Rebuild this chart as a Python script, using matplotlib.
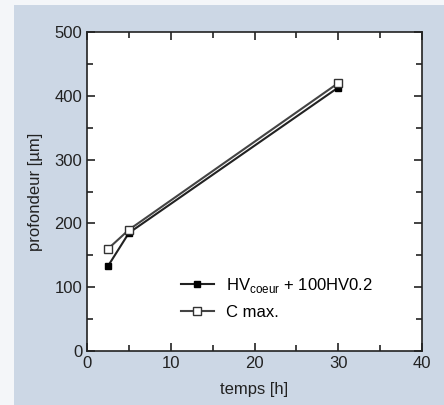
import matplotlib
matplotlib.use('Agg')
import matplotlib.pyplot as plt
from matplotlib.patches import Rectangle
from matplotlib.ticker import MultipleLocator

plt.rcParams['font.family'] = ['Liberation Sans', 'DejaVu Sans']

# data
temps = [2.5, 5, 30]
hv_coeur = [133, 185, 413]
c_max = [160, 190, 420]

fig = plt.figure(figsize=(4.44, 4.05), dpi=100, facecolor='#f4f6f9')
# scanned page background (light blue panel)
fig.patches.append(Rectangle((14/444, 0), 1, 1 - 5/405, transform=fig.transFigure,
                             facecolor='#ccd7e5', edgecolor='none', zorder=-10))
ax = fig.add_axes([87/444, 1 - 351/405, (422-87)/444, (351-32)/405])
ax.set_facecolor('white')

ax.plot(temps, hv_coeur, color='#222222', lw=1.5, marker='s', ms=5,
        mfc='black', mec='black', label=r'HV$_{\mathregular{coeur}}$ + 100HV0.2')
ax.plot(temps, c_max, color='#444444', lw=1.5, marker='s', ms=6,
        mfc='white', mec='#333333', label='C max.')

ax.set_xlim(0, 40)
ax.set_ylim(0, 500)
ax.xaxis.set_major_locator(MultipleLocator(10))
ax.xaxis.set_minor_locator(MultipleLocator(5))
ax.yaxis.set_major_locator(MultipleLocator(100))
ax.yaxis.set_minor_locator(MultipleLocator(50))
ax.tick_params(which='both', direction='in', top=True, right=True, labelsize=12,
               colors='#222222', width=1.2)
ax.tick_params(which='major', length=6)
ax.tick_params(which='minor', length=4)
for s in ax.spines.values():
    s.set_linewidth(1.2)
    s.set_color('#222222')

ax.set_xlabel('temps [h]', fontsize=12, color='#222222', labelpad=8)
ax.set_ylabel('profondeur [µm]', fontsize=12, color='#222222', labelpad=8)

ax.legend(loc='lower left', bbox_to_anchor=(0.235, 0.05), frameon=False,
          fontsize=12, handlelength=2.0, handletextpad=0.7, labelspacing=0.6)

fig.savefig('out.png', dpi=100, facecolor=fig.get_facecolor())
